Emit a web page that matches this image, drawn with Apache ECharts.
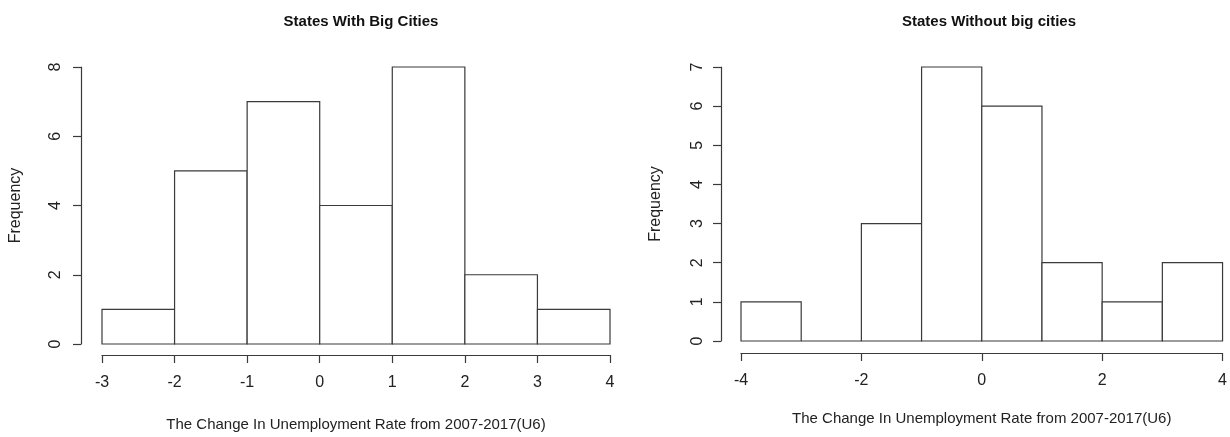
<!DOCTYPE html>
<html>
<head>
<meta charset="utf-8">
<title>Unemployment change histograms</title>
<script src="https://cdn.jsdelivr.net/npm/echarts@6/dist/echarts.min.js"></script>
<style>
  html, body { margin: 0; padding: 0; background: #ffffff; }
  #chart { width: 1230px; height: 437px; }
</style>
</head>
<body>
<div id="chart"></div>
<script>
// Histogram bins: left edges and counts for each panel
var bigBinStarts = [-3, -2, -1, 0, 1, 2, 3];
var bigCounts = [1, 5, 7, 4, 8, 2, 1];

var smallBinStarts = [-4, -3, -2, -1, 0, 1, 2, 3];
var smallCounts = [1, 0, 3, 7, 6, 2, 1, 2];

var binWidth = 1;

var panelTitles = ['States With Big Cities', 'States Without big cities'];
var xAxisTitle = 'The Change In Unemployment Rate from 2007-2017(U6)';
var yAxisTitle = 'Frequency';

var FONT = '"Liberation Sans", Arial, Helvetica, sans-serif';
var INK = '#222';
var LINE = '#3a3a3a';

function toBins(starts, counts) {
  return starts.map(function (s, i) { return [s, s + binWidth, counts[i]]; });
}

function renderBin(params, api) {
  var topLeft = api.coord([api.value(0), api.value(2)]);
  var bottomRight = api.coord([api.value(1), 0]);
  return {
    type: 'rect',
    shape: {
      x: topLeft[0],
      y: topLeft[1],
      width: bottomRight[0] - topLeft[0],
      height: bottomRight[1] - topLeft[1]
    },
    style: { fill: '#ffffff', stroke: LINE, lineWidth: 1.2 }
  };
}

function xAxisFor(gridIndex, min, max, interval, offset, nameGap) {
  return {
    type: 'value', gridIndex: gridIndex, min: min, max: max, interval: interval,
    offset: offset,
    name: xAxisTitle, nameLocation: 'middle', nameGap: nameGap,
    nameTextStyle: { fontFamily: FONT, fontSize: 15, color: INK },
    axisLine: { show: true, onZero: false, lineStyle: { color: LINE, width: 1.2 } },
    axisTick: { show: true, length: 8, lineStyle: { color: LINE, width: 1.2 } },
    axisLabel: { fontFamily: FONT, fontSize: 16, color: INK, margin: 20 },
    splitLine: { show: false }
  };
}

function yAxisFor(gridIndex, max, interval, offset, nameGap, labelMargin) {
  return {
    type: 'value', gridIndex: gridIndex, min: 0, max: max, interval: interval,
    offset: offset,
    name: yAxisTitle, nameLocation: 'middle', nameGap: nameGap,
    nameTextStyle: { fontFamily: FONT, fontSize: 16, color: INK },
    axisLine: { show: true, onZero: false, lineStyle: { color: LINE, width: 1.2 } },
    axisTick: { show: true, length: 8, lineStyle: { color: LINE, width: 1.2 } },
    axisLabel: { fontFamily: FONT, fontSize: 16, color: INK, rotate: 90, margin: labelMargin },
    splitLine: { show: false }
  };
}

var chart = echarts.init(document.getElementById('chart'), null, { renderer: 'canvas' });

chart.setOption({
  animation: false,
  backgroundColor: '#ffffff',
  title: [
    {
      text: panelTitles[0], left: 356, top: 9, textAlign: 'center',
      textStyle: { fontFamily: FONT, fontSize: 15, fontWeight: 'bold', color: '#111' }
    },
    {
      text: panelTitles[1], left: 984, top: 9, textAlign: 'center',
      textStyle: { fontFamily: FONT, fontSize: 15, fontWeight: 'bold', color: '#111' }
    }
  ],
  grid: [
    { left: 102, right: 620, top: 67, bottom: 90 },
    { left: 741, right: 3, top: 67, bottom: 96 }
  ],
  xAxis: [
    xAxisFor(0, -3, 4, 1, 11, 62),
    xAxisFor(1, -4, 4, 2, 12, 58)
  ],
  yAxis: [
    yAxisFor(0, 8, 2, 21, 57, 17),
    yAxisFor(1, 7, 1, 20, 57, 15)
  ],
  series: [
    {
      type: 'custom', xAxisIndex: 0, yAxisIndex: 0,
      data: toBins(bigBinStarts, bigCounts),
      renderItem: renderBin,
      encode: { x: [0, 1], y: 2 }
    },
    {
      type: 'custom', xAxisIndex: 1, yAxisIndex: 1,
      data: toBins(smallBinStarts, smallCounts),
      renderItem: renderBin,
      encode: { x: [0, 1], y: 2 }
    }
  ]
});
</script>
</body>
</html>
